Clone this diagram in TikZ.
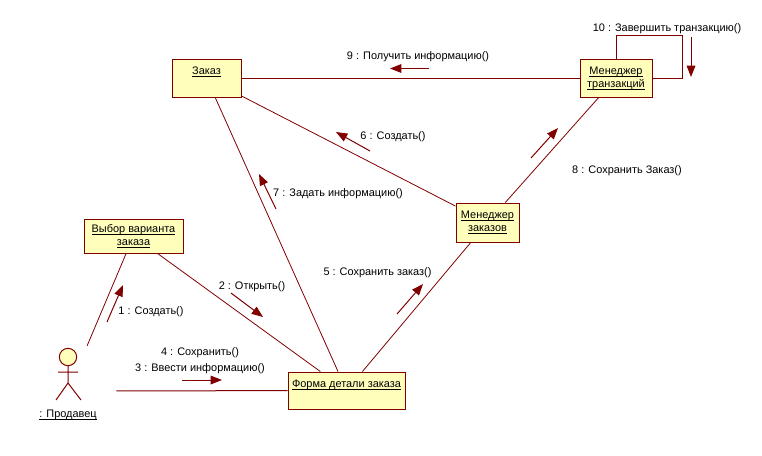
\documentclass[tikz,border=0pt]{standalone}
\usepackage{fontspec}
\setmainfont{Liberation Sans}
\usetikzlibrary{arrows.meta}
\definecolor{umlline}{RGB}{128,0,0}
\definecolor{umlfill}{RGB}{255,255,187}
\tikzset{
  objbox/.style={draw=umlline,fill=umlfill,line width=0.75pt,rectangle,inner sep=0pt,align=center,font=\fontsize{8.2}{10}\selectfont},
  link/.style={draw=umlline,line width=0.6pt},
  msg/.style={draw=umlline,line width=0.75pt,-{Triangle[length=8.5pt,width=6.5pt]}},
  msglabel/.style={font=\fontsize{8.2}{10}\selectfont,inner sep=0pt,text height=6.5pt,text depth=0pt}
}
\newcommand{\ul}[1]{\strut\underline{\smash{#1}}}
\begin{document}
\begin{tikzpicture}[x=0.75pt,y=-0.75pt]
  \useasboundingbox (0,0) rectangle (762,455);
  % objects
  \node[objbox,minimum width=51.75pt,minimum height=28.5pt] (order) at (206.5,78) {\ul{Заказ}\\[2pt]~};
  \node[objbox,minimum width=54pt,minimum height=28.5pt] (trans) at (616,78) {\ul{Менеджер}\\\ul{транзакций}};
  \node[objbox,minimum width=47.25pt,minimum height=29.25pt] (ordermgr) at (487.5,222.5) {\ul{Менеджер}\\\ul{заказов}};
  \node[objbox,minimum width=87.75pt,minimum height=27.75pt] (form) at (346.5,390.5) {\ul{Форма детали заказа}\\[2pt]~};
  \node[objbox,minimum width=74.25pt,minimum height=25.5pt] (choice) at (133.5,236) {\ul{Выбор варианта}\\\ul{заказа}};
  % actor
  \node[minimum width=72pt,minimum height=67.5pt,inner sep=0pt] (seller) at (68,391) {};
  \draw[umlline,fill=umlfill,line width=0.75pt] (68,357) circle (6.5pt);
  \draw[umlline,line width=0.75pt] (68,366) -- (68,383) (58,372) -- (78,372) (56,400) -- (68,383) -- (81,400);
  \node[msglabel] (sellername) at (68,413) {\ul{: Продавец}};
  % links
  \draw[link] (seller) -- (choice);
  \draw[link,line width=0.75pt] (seller) -- (form);
  \draw[link] (choice) -- (form);
  \draw[link] (order) -- (form);
  \draw[link] (order) -- (ordermgr);
  \draw[link,line width=0.75pt] (order) -- (trans);
  \draw[link] (ordermgr) -- (form);
  \draw[link] (ordermgr) -- (trans);
  \coordinate (loopa) at (616,35);
  \coordinate (loopb) at (682,78);
  \draw[link,line width=0.75pt] (trans.north) -- (loopa) -| (loopb) -- (trans.east);
  % messages
  \foreach \m/\xa/\ya/\xb/\yb in {one/107/322/123/285,two/231/293/263/317,three/182/380/222/380,
      five/397/314/423/284,six/370/151/336/132,seven/276/209/259/174,
      eight/531/158/558/128,nine/429/68.5/390/68.5,ten/691/37/691/77}{
    \coordinate (\m a) at (\xa,\ya);
    \coordinate (\m b) at (\xb,\yb);
    \draw[msg] (\m a) -- (\m b);
  }
  % message labels
  \node[msglabel] (lone) at (151,310) {1 : Создать()};
  \node[msglabel] (ltwo) at (252,285) {2 : Открыть()};
  \node[msglabel] (lthree) at (200,367) {3 : Ввести информацию()};
  \node[msglabel] (lfour) at (200,351) {4 : Сохранить()};
  \node[msglabel] (lfive) at (377.5,271) {5 : Сохранить заказ()};
  \node[msglabel] (lsix) at (393,135) {6 : Создать()};
  \node[msglabel] (lseven) at (338,192) {7 : Задать информацию()};
  \node[msglabel] (leight) at (627,169) {8 : Сохранить Заказ()};
  \node[msglabel] (lnine) at (418,55) {9 : Получить информацию()};
  \node[msglabel] (lten) at (667,27) {10 : Завершить транзакцию()};
\end{tikzpicture}
\end{document}
